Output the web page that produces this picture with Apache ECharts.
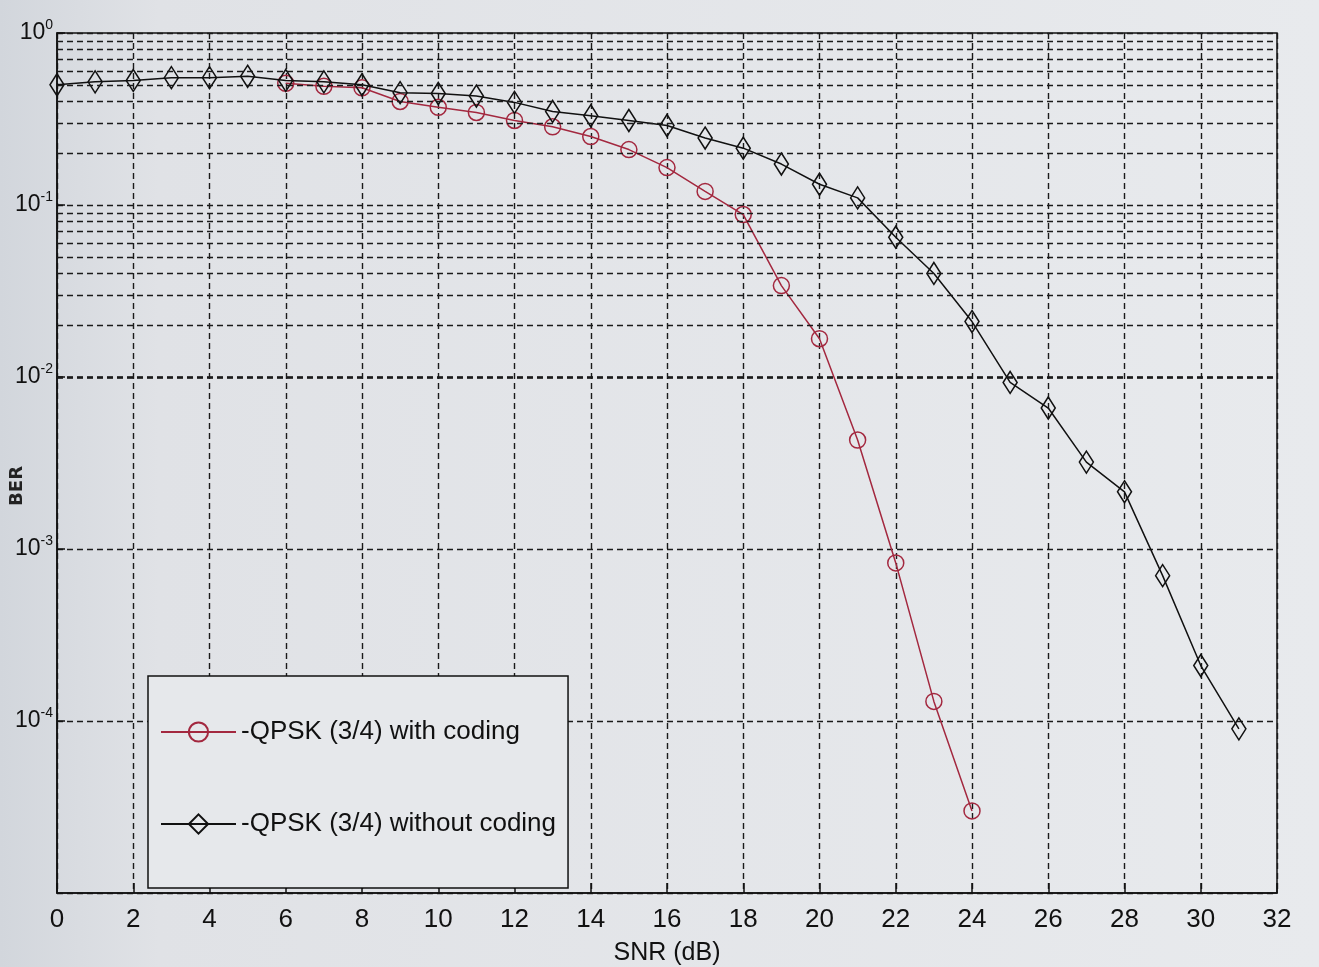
<!DOCTYPE html>
<html>
<head>
<meta charset="utf-8">
<title>BER vs SNR</title>
<script src="https://cdn.jsdelivr.net/npm/echarts@6/dist/echarts.min.js"></script>
<style>
  html, body { margin: 0; padding: 0; background: #e3e5e9; }
  #chart { width: 1319px; height: 967px; }
</style>
</head>
<body>
<div id="chart"></div>
<script>
// SNR points (dB)
const snrUncoded = [0, 1, 2, 3, 4, 5, 6, 7, 8, 9, 10, 11, 12, 13, 14, 15,
                    16, 17, 18, 19, 20, 21, 22, 23, 24, 25, 26, 27, 28, 29, 30, 31];
const snrCoded = [6, 7, 8, 9, 10, 11, 12, 13, 14, 15, 16, 17, 18, 19, 20, 21, 22, 23, 24];

// Bit error rate, QPSK 3/4 without channel coding
const berUncoded = [0.50, 0.52, 0.53, 0.55, 0.55, 0.56, 0.53, 0.52, 0.50, 0.45,
                    0.445, 0.43, 0.395, 0.35, 0.33, 0.31, 0.29, 0.245, 0.214, 0.173,
                    0.132, 0.11, 0.065, 0.040, 0.021, 0.0093, 0.0066, 0.0032, 0.00215,
                    0.0007, 0.00021, 0.00009];

// Bit error rate, QPSK 3/4 with channel coding
const berCoded = [0.51, 0.49, 0.48, 0.40, 0.37, 0.345, 0.31, 0.285, 0.25, 0.21,
                  0.165, 0.12, 0.088, 0.034, 0.0167, 0.0043, 0.00083, 0.00013, 0.00003];

// Legend labels and axis titles
const nameCoded = '-QPSK (3/4) with coding';
const nameUncoded = '-QPSK (3/4) without coding';
const xTitle = 'SNR (dB)';
const yTitle = 'BER';

// Axis ranges and the log-decade minor grid (2..9 within each decade)
const xMin = 0, xMax = 32, xStep = 2;
const yMinExp = -5, yMaxExp = 0;
const minorMultipliers = [2, 3, 4, 5, 6, 7, 8, 9];

const minorGridValues = [];
for (let e = yMinExp; e < yMaxExp; e++) {
  for (const m of minorMultipliers) minorGridValues.push(m * Math.pow(10, e));
}

const FONT = "'Liberation Sans Narrow','Arial Narrow','Liberation Sans',Arial,sans-serif";
const RED = '#a3283f';
const INK = '#111111';
const gridDash = { color: '#1a1a1a', width: 1.4, type: [6, 4] };

const chart = echarts.init(document.getElementById('chart'), null, { renderer: 'canvas' });

const pairs = (xs, ys) => xs.map((x, i) => [x, ys[i]]);

chart.setOption({
  backgroundColor: {
    type: 'linear', x: 0, y: 0, x2: 1, y2: 0,
    colorStops: [
      { offset: 0, color: '#d2d6dc' },
      { offset: 0.12, color: '#e0e2e6' },
      { offset: 1, color: '#e8eaed' }
    ]
  },
  animation: false,
  grid: {
    left: 57, right: 42, top: 33, bottom: 74,
    outerBoundsMode: 'none',
    containLabel: false,
    show: true, borderColor: INK, borderWidth: 1.5,
    backgroundColor: 'transparent'
  },
  // vertical axis title, set a little below the plot's middle
  graphic: [{
    type: 'text',
    left: 8, top: 466,
    rotation: Math.PI / 2,
    style: {
      text: yTitle,
      font: "bold 18px 'DejaVu Sans', sans-serif",
      fill: '#222'
    }
  }],
  legend: {
    orient: 'vertical',
    left: 148, top: 676,
    padding: [43, 12, 51, 12],
    itemWidth: 75, itemHeight: 24, itemGap: 66,
    backgroundColor: '#e6e8eb',
    borderColor: INK, borderWidth: 1.5,
    textStyle: { fontFamily: FONT, fontSize: 26, color: INK },
    data: [nameCoded, nameUncoded]
  },
  xAxis: {
    type: 'value',
    min: xMin, max: xMax, interval: xStep,
    name: xTitle,
    nameLocation: 'middle', nameGap: 48,
    nameTextStyle: { fontFamily: FONT, fontSize: 25, color: INK },
    axisLine: { show: true, lineStyle: { color: INK, width: 1.5 } },
    axisTick: { show: true, inside: true, length: 10, lineStyle: { color: INK, width: 1.5 } },
    axisLabel: { fontFamily: FONT, fontSize: 26, color: INK, margin: 14 },
    splitLine: { show: true, lineStyle: gridDash }
  },
  yAxis: {
    type: 'log', logBase: 10,
    min: Math.pow(10, yMinExp), max: Math.pow(10, yMaxExp),
    splitNumber: 5,
    axisLine: { show: true, lineStyle: { color: INK, width: 1.5 } },
    axisTick: { show: true, inside: true, length: 8, lineStyle: { color: INK, width: 1.5 } },
    axisLabel: {
      margin: 4,
      showMinLabel: false,
      formatter: v => '{b|10}{s|' + Math.round(Math.log10(v)) + '}',
      rich: {
        b: { fontFamily: FONT, fontSize: 23, color: INK },
        s: { fontFamily: FONT, fontSize: 14, color: INK, padding: [0, 0, 16, 0] }
      }
    },
    splitLine: { show: true, lineStyle: gridDash }
  },
  series: [
    {
      name: nameCoded,
      type: 'line',
      data: pairs(snrCoded, berCoded),
      symbol: 'circle', symbolSize: 16,
      lineStyle: { color: RED, width: 1.5 },
      itemStyle: { color: 'rgba(0,0,0,0)', borderColor: RED, borderWidth: 1.5 },
      z: 3,
      markLine: {
        silent: true, symbol: 'none',
        label: { show: false },
        lineStyle: gridDash,
        emphasis: { disabled: true },
        data: minorGridValues.map(v => ({ yAxis: v }))
      }
    },
    {
      name: nameUncoded,
      type: 'line',
      data: pairs(snrUncoded, berUncoded),
      symbol: 'diamond', symbolSize: [14, 22],
      lineStyle: { color: INK, width: 1.5 },
      itemStyle: { color: 'rgba(0,0,0,0)', borderColor: INK, borderWidth: 1.6 },
      z: 4
    }
  ]
});
</script>
</body>
</html>
